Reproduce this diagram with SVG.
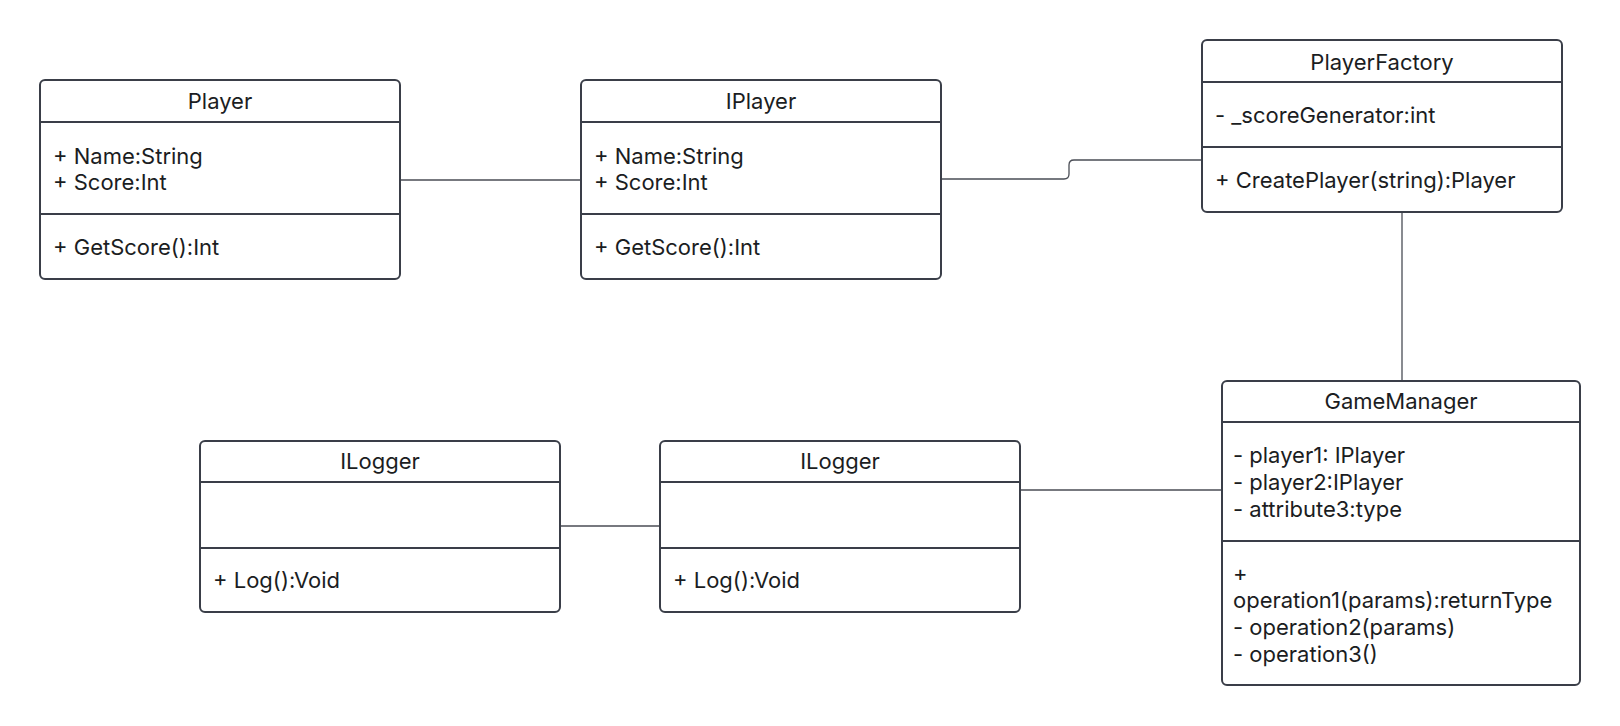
<svg xmlns="http://www.w3.org/2000/svg" width="1620" height="726" viewBox="0 0 1620 726">
<style>
.box{fill:#ffffff;stroke:#3a3e48;stroke-width:2}
.sep{stroke:#3a3e48;stroke-width:2}
.t{font-family:Inter,"Liberation Sans",sans-serif;font-size:22px;fill:#1b1d22}
.c{text-anchor:middle}
.conn{fill:none;stroke:#4a4d55;stroke-width:1.3}
</style>
<rect width="1620" height="726" fill="#ffffff"/>
<g id="connectors">
<path class="conn" d="M400 180 H581"/>
<path class="conn" d="M941 179 H1064 Q1069 179 1069 174 V165 Q1069 160 1074 160 H1202"/>
<path class="conn" d="M1402 212 V381"/>
<path class="conn" d="M560 526 H660"/>
<path class="conn" d="M1020 490 H1222"/>
</g>
<g id="player">
<rect class="box" x="40" y="80" width="360" height="199" rx="5"/>
<line class="sep" x1="40" y1="122" x2="400" y2="122"/>
<line class="sep" x1="40" y1="214" x2="400" y2="214"/>
<text class="t c" x="220" y="109">Player</text>
<text class="t" x="53" y="164">+ Name:String</text>
<text class="t" x="53" y="190">+ Score:Int</text>
<text class="t" x="53" y="255">+ GetScore():Int</text>
</g>
<g id="iplayer">
<rect class="box" x="581" y="80" width="360" height="199" rx="5"/>
<line class="sep" x1="581" y1="122" x2="941" y2="122"/>
<line class="sep" x1="581" y1="214" x2="941" y2="214"/>
<text class="t c" x="761" y="109">IPlayer</text>
<text class="t" x="594" y="164">+ Name:String</text>
<text class="t" x="594" y="190">+ Score:Int</text>
<text class="t" x="594" y="255">+ GetScore():Int</text>
</g>
<g id="playerfactory">
<rect class="box" x="1202" y="40" width="360" height="172" rx="5"/>
<line class="sep" x1="1202" y1="82" x2="1562" y2="82"/>
<line class="sep" x1="1202" y1="147" x2="1562" y2="147"/>
<text class="t c" x="1382" y="70">PlayerFactory</text>
<text class="t" x="1215" y="123">- _scoreGenerator:int</text>
<text class="t" x="1215" y="188">+ CreatePlayer(string):Player</text>
</g>
<g id="gamemanager">
<rect class="box" x="1222" y="381" width="358" height="304" rx="5"/>
<line class="sep" x1="1222" y1="422" x2="1580" y2="422"/>
<line class="sep" x1="1222" y1="541" x2="1580" y2="541"/>
<text class="t c" x="1401" y="409">GameManager</text>
<text class="t" x="1233" y="463">- player1: IPlayer</text>
<text class="t" x="1233" y="490">- player2:IPlayer</text>
<text class="t" x="1233" y="517">- attribute3:type</text>
<text class="t" x="1233" y="581">+</text>
<text class="t" x="1233" y="608">operation1(params):returnType</text>
<text class="t" x="1233" y="635">- operation2(params)</text>
<text class="t" x="1233" y="662">- operation3()</text>
</g>
<g id="ilogger1">
<rect class="box" x="200" y="441" width="360" height="171" rx="5"/>
<line class="sep" x1="200" y1="482" x2="560" y2="482"/>
<line class="sep" x1="200" y1="548" x2="560" y2="548"/>
<text class="t c" x="380" y="469">ILogger</text>
<text class="t" x="213" y="588">+ Log():Void</text>
</g>
<g id="ilogger2">
<rect class="box" x="660" y="441" width="360" height="171" rx="5"/>
<line class="sep" x1="660" y1="482" x2="1020" y2="482"/>
<line class="sep" x1="660" y1="548" x2="1020" y2="548"/>
<text class="t c" x="840" y="469">ILogger</text>
<text class="t" x="673" y="588">+ Log():Void</text>
</g>
</svg>
